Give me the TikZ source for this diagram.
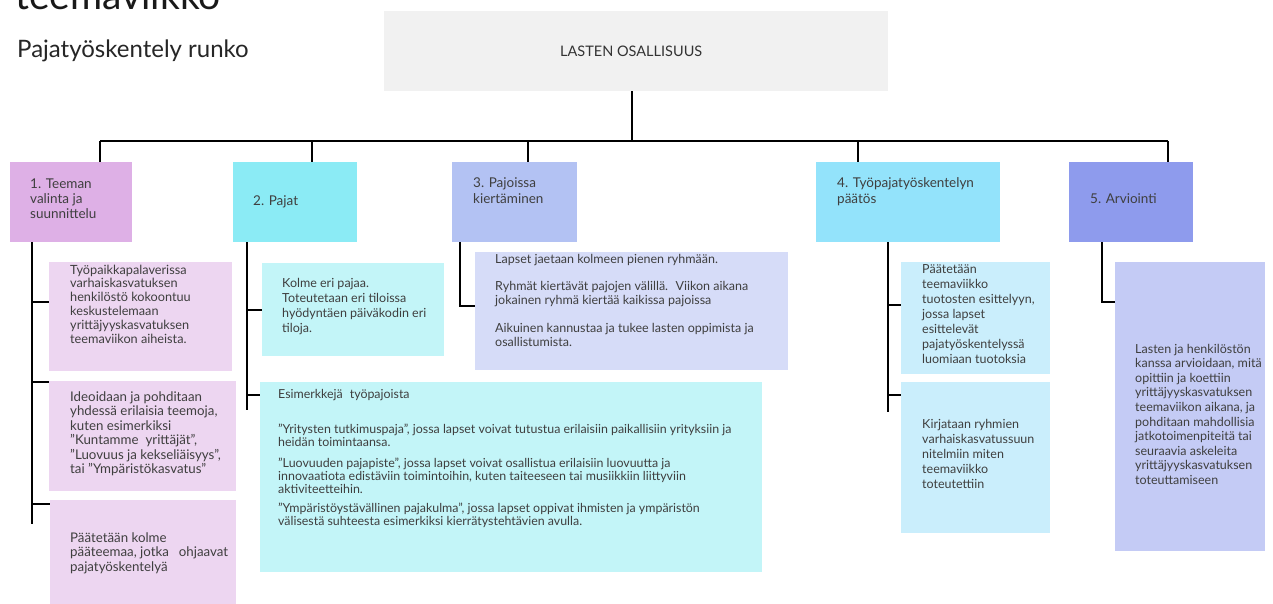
\documentclass[tikz,border=0pt]{standalone}
\usepackage{fontspec}
\setmainfont{Lato}
\newcommand{\mtxt}[1]{\begin{tabular}[t]{@{}l@{}}#1\end{tabular}}
\definecolor{topc}{HTML}{F1F1F1}
\definecolor{c1}{HTML}{DEB0E6}
\definecolor{c1l}{HTML}{EDD6F1}
\definecolor{c2}{HTML}{8BEBF5}
\definecolor{c2l}{HTML}{C3F5F8}
\definecolor{c3}{HTML}{B3C2F3}
\definecolor{c3l}{HTML}{D6DCF8}
\definecolor{c4}{HTML}{93E3FB}
\definecolor{c4l}{HTML}{CAEEFC}
\definecolor{c5}{HTML}{8E9BED}
\definecolor{c5l}{HTML}{C4CBF5}
\definecolor{tc}{HTML}{3F3F3F}
\begin{document}
\begin{tikzpicture}[x=1pt,y=-1pt,
  conn/.style={line width=2.6pt, black},
  boxst/.style={rectangle, draw=none, inner sep=0pt, anchor=north west},
  lbl/.style={inner sep=0pt, anchor=base west, text=tc, font=\fontsize{13.5}{15}\selectfont},
  body/.style={inner sep=0pt, anchor=base west, text=tc, font=\fontsize{12.5}{14.5}\selectfont},
]
\useasboundingbox (0,0) rectangle (1273,604);
\fill[white] (0,0) rectangle (1273,604);

% titles
\node[inner sep=0pt, anchor=base west, text=black!90, font=\fontsize{39}{42}\selectfont] (title) at (15,10) {teemaviikko};
\node[inner sep=0pt, anchor=base west, text=black!85, font=\fontsize{24}{27}\selectfont] (subtitle) at (17,58) {Pajatyöskentely runko};

% top box
\node[boxst, fill=topc, minimum width=504pt, minimum height=80pt] (top) at (384,11) {};
\node[inner sep=0pt, text=black!80, font=\fontsize{14.5}{16}\selectfont] (toptext) at ([xshift=-5pt]top.center) {LASTEN OSALLISUUS};

% level 1 boxes
\node[boxst, fill=c1, minimum width=122pt, minimum height=80pt] (b1) at (10,162) {};
\node[boxst, fill=c2, minimum width=124pt, minimum height=80pt] (b2) at (233,162) {};
\node[boxst, fill=c3, minimum width=125pt, minimum height=80pt] (b3) at (452,162) {};
\node[boxst, fill=c4, minimum width=184pt, minimum height=80pt] (b4) at (816,162) {};
\node[boxst, fill=c5, minimum width=124pt, minimum height=80pt] (b5) at (1069,162) {};

\node[lbl] (t1) at (30,189) {\mtxt{1. Teeman\\valinta ja\\suunnittelu}};
\node[lbl] (t2) at (253,205) {2. Pajat};
\node[lbl] (t3) at (473,188) {\mtxt{3. Pajoissa\\kiertäminen}};
\node[lbl] (t4) at (837,188) {\mtxt{4. Työpajatyöskentelyn\\päätös}};
\node[lbl] (t5) at (1090,203) {5. Arviointi};

% content boxes
\node[boxst, fill=c1l, minimum width=183pt, minimum height=109pt] (b1a) at (49,262) {};
\node[boxst, fill=c1l, minimum width=187pt, minimum height=110pt] (b1b) at (49,381) {};
\node[boxst, fill=c1l, minimum width=186pt, minimum height=104pt] (b1c) at (50,500) {};
\node[boxst, fill=c2l, minimum width=182pt, minimum height=93pt] (b2a) at (262,263) {};
\node[boxst, fill=c2l, minimum width=502pt, minimum height=190pt] (b2b) at (260,382) {};
\node[boxst, fill=c3l, minimum width=313pt, minimum height=118pt] (b3a) at (475,252) {};
\node[boxst, fill=c4l, minimum width=149pt, minimum height=112pt] (b4a) at (901,262) {};
\node[boxst, fill=c4l, minimum width=149pt, minimum height=151pt] (b4b) at (901,382) {};
\node[boxst, fill=c5l, minimum width=150pt, minimum height=289pt] (b5a) at (1115,262) {};

\node[body, font=\fontsize{12.7}{13.8}\selectfont] (t1a) at (70,274) {\mtxt{Työpaikkapalaverissa\\varhaiskasvatuksen\\henkilöstö kokoontuu\\keskustelemaan\\yrittäjyyskasvatuksen\\teemaviikon aiheista.}};
\node[body, font=\fontsize{13.3}{14.5}\selectfont] (t1b) at (70,401) {\mtxt{Ideoidaan ja pohditaan\\yhdessä erilaisia teemoja,\\kuten esimerkiksi\\"Kuntamme\hspace{7pt}yrittäjät",\\"Luovuus ja kekseliäisyys",\\tai "Ympäristökasvatus"}};
\node[body, font=\fontsize{13.3}{14.5}\selectfont] (t1c) at (70,542) {\mtxt{Päätetään kolme\\pääteemaa, jotka\hspace{10pt}ohjaavat\\pajatyöskentelyä}};
\node[body, font=\fontsize{12.5}{15}\selectfont] (t2a) at (282,287) {\mtxt{Kolme eri pajaa.\\Toteutetaan eri tiloissa\\hyödyntäen päiväkodin eri\\tiloja.}};
\node[body, font=\fontsize{12.4}{12.9}\selectfont] (t2b) at (278,398) {\mtxt{Esimerkkejä\hspace{7pt}työpajoista\\[22pt]"Yritysten tutkimuspaja", jossa lapset voivat tutustua erilaisiin paikallisiin yrityksiin ja\\heidän toimintaansa.\\[8pt]"Luovuuden pajapiste", jossa lapset voivat osallistua erilaisiin luovuutta ja\\innovaatiota edistäviin toimintoihin, kuten taiteeseen tai musiikkiin liittyviin\\aktiviteetteihin.\\[5pt]"Ympäristöystävällinen pajakulma", jossa lapset oppivat ihmisten ja ympäristön\\välisestä suhteesta esimerkiksi kierrätystehtävien avulla.}};
\node[body, font=\fontsize{12.5}{14}\selectfont] (t3a) at (495,263) {\mtxt{Lapset jaetaan kolmeen pienen ryhmään.\\[13pt]Ryhmät kiertävät pajojen välillä. \ Viikon aikana\\jokainen ryhmä kiertää kaikissa pajoissa\\[14pt]Aikuinen kannustaa ja tukee lasten oppimista ja\\osallistumista.}};
\node[body, font=\fontsize{12.5}{15.1}\selectfont] (t4a) at (922,273) {\mtxt{Päätetään\\teemaviikko\\tuotosten esittelyyn,\\jossa lapset\\esittelevät\\pajatyöskentelyssä\\luomiaan tuotoksia}};
\node[body, font=\fontsize{12.5}{15.1}\selectfont] (t4b) at (922,428) {\mtxt{Kirjataan ryhmien\\varhaiskasvatussuun\\nitelmiin miten\\teemaviikko\\toteutettiin}};
\node[body, font=\fontsize{12.5}{14.6}\selectfont] (t5a) at (1135,353) {\mtxt{Lasten ja henkilöstön\\kanssa arvioidaan, mitä\\opittiin ja koettiin\\yrittäjyyskasvatuksen\\teemaviikon aikana, ja\\pohditaan mahdollisia\\jatkotoimenpiteitä tai\\seuraavia askeleita\\yrittäjyyskasvatuksen\\toteuttamiseen}};

% connector coordinates
\coordinate (bus) at (632,141);
\coordinate (p1) at (100,162);
\coordinate (p2) at (312,162);
\coordinate (p3) at (528,162);
\coordinate (p4) at (858,162);
\coordinate (p5) at (1168,162);

\coordinate (s1) at (32,242);
\coordinate (s2) at (247,242);
\coordinate (s3) at (460,242);
\coordinate (s4) at (888,242);
\coordinate (s5) at (1102,242);

\coordinate (k1a) at (49,302);
\coordinate (k1b) at (49,382);
\coordinate (k1c) at (50,504);
\coordinate (e1) at (32,524);
\coordinate (k2a) at (262,310);
\coordinate (k2b) at (260,395);
\coordinate (e2) at (247,410);
\coordinate (k3a) at (475,306);
\coordinate (k4a) at (901,305);
\coordinate (k4b) at (901,395);
\coordinate (e4) at (888,412);
\coordinate (k5a) at (1115,302);

% top connectors
\draw[conn] (top.south -| bus) -- (bus);
\draw[conn] (bus -| p1) -- (bus -| p5);
\foreach \p in {p1,p2,p3,p4,p5} \draw[conn] (bus -| \p) -- (\p);

% stems
\draw[conn] (s1) -- (e1);
\draw[conn] (s1 |- k1a) -- (k1a);
\draw[conn] (s1 |- k1b) -- (k1b);
\draw[conn] (s1 |- k1c) -- (k1c);

\draw[conn] (s2) -- (e2);
\draw[conn] (s2 |- k2a) -- (k2a);
\draw[conn] (s2 |- k2b) -- (k2b);

\draw[conn] (s3) |- (k3a);

\draw[conn] (s4) -- (e4);
\draw[conn] (s4 |- k4a) -- (k4a);
\draw[conn] (s4 |- k4b) -- (k4b);

\draw[conn] (s5) |- (k5a);
\end{tikzpicture}
\end{document}
